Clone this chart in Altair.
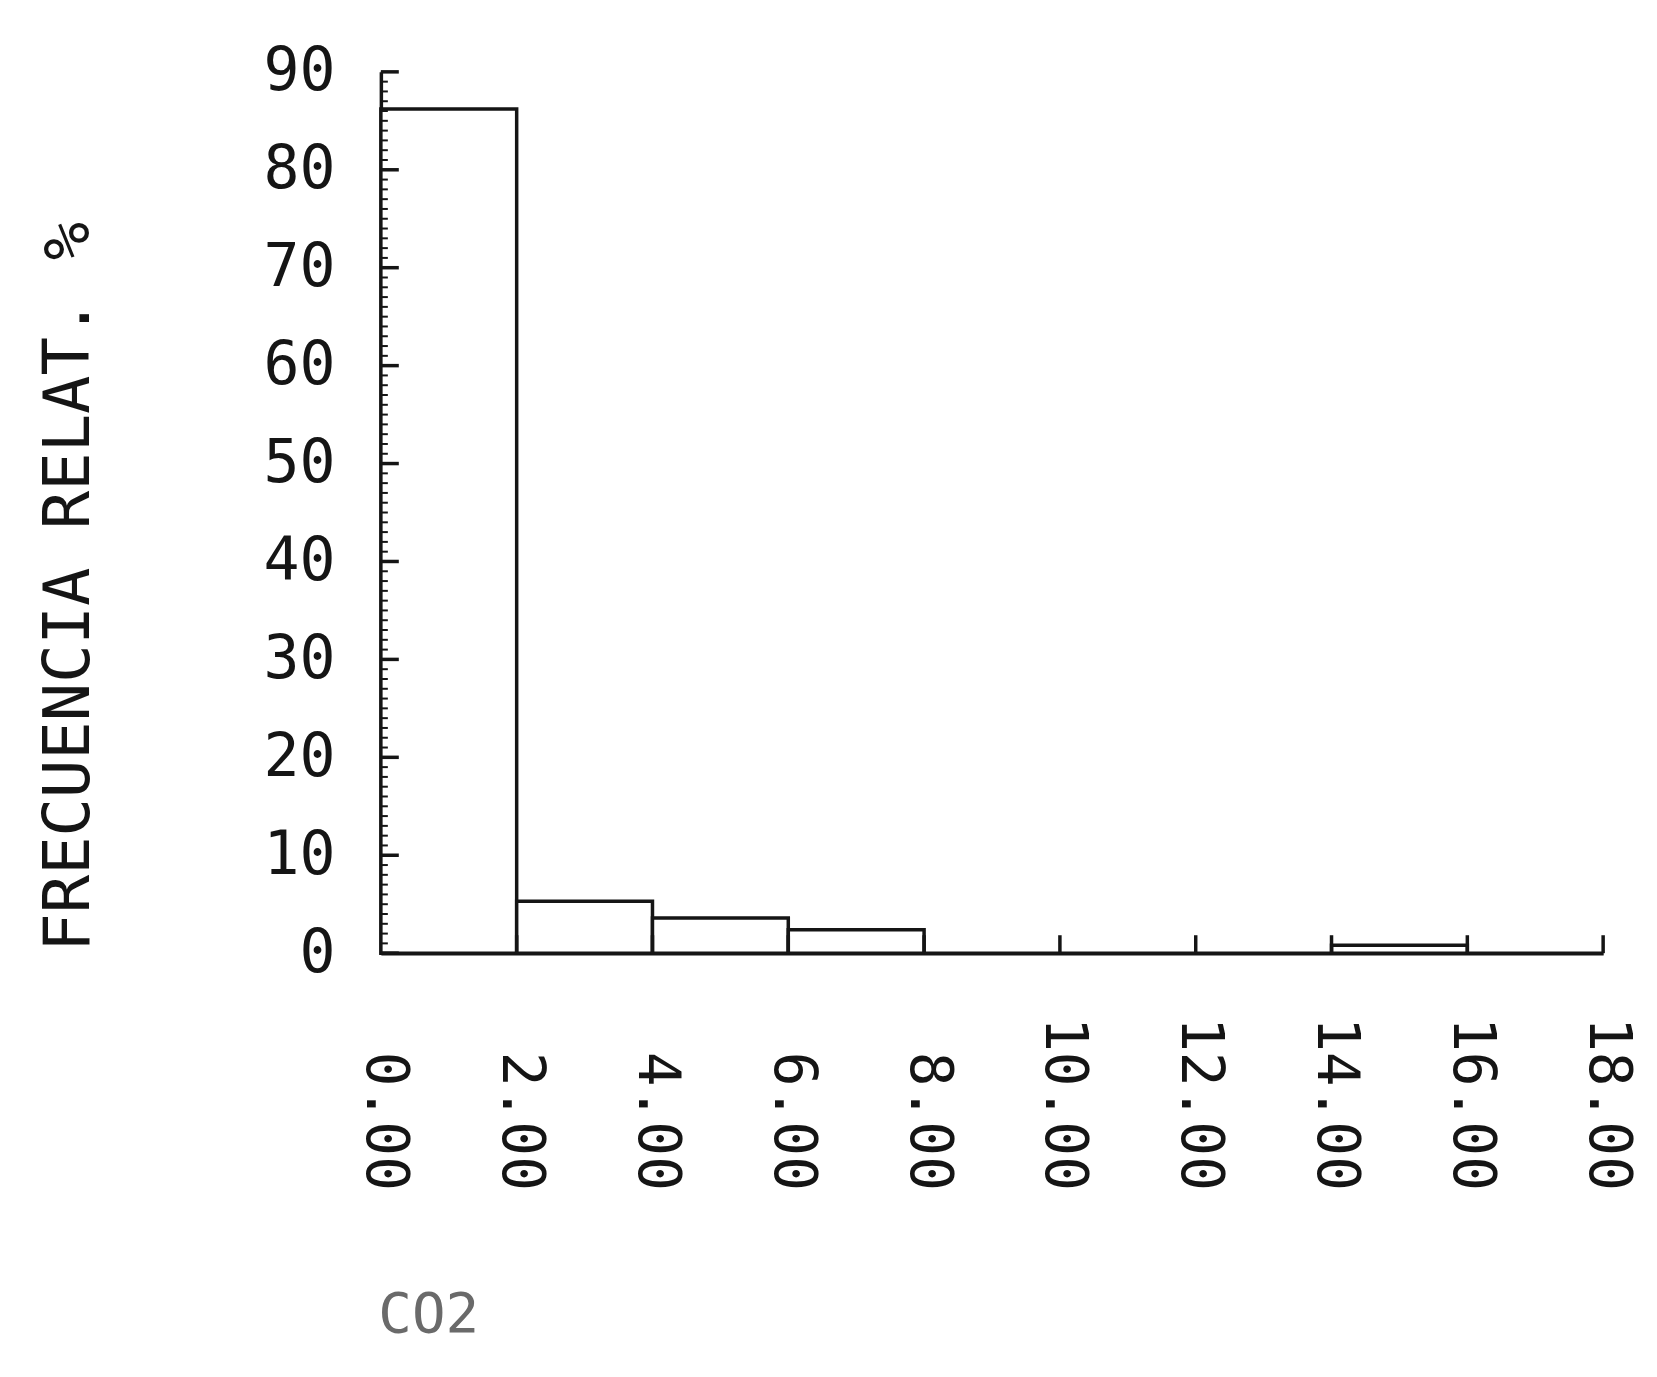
import altair as alt
import pandas as pd

# Histogram data (CO2 classes, relative frequency %)
bin_start = [0, 2, 4, 6, 8, 10, 12, 14, 16]
bin_end = [2, 4, 6, 8, 10, 12, 14, 16, 18]
freq = [86.2, 5.3, 3.6, 2.4, 0.0, 0.0, 0.0, 0.8, 0.0]

x_tick_values = [0, 2, 4, 6, 8, 10, 12, 14, 16, 18]
y_tick_values = [0, 10, 20, 30, 40, 50, 60, 70, 80, 90]
y_minor_values = list(range(0, 91))
x_inner_ticks = [2, 4, 6, 8, 10, 12, 14, 16, 18]

df = pd.DataFrame({"b0": bin_start, "b1": bin_end, "f": freq})
W, H = 1226, 884
FONT = "DejaVu Sans Mono"
INK = "#151515"

xs = alt.Scale(domain=[0, 18], nice=False, zero=False)
ys = alt.Scale(domain=[0, 90], nice=False)

bars = alt.Chart(df).mark_rect(fill="white", stroke=INK, strokeWidth=3.5).encode(
    x=alt.X("b0:Q", scale=xs, axis=alt.Axis(
        values=x_tick_values, format=".2f", title="CO2",
        labelAngle=90, labelAlign="right", labelBaseline="middle",
        labelPadding=238, ticks=False, tickSize=0, labelOffset=3,
        labelFont=FONT, labelFontSize=58, labelColor=INK,
        domainColor=INK, domainWidth=3.5, grid=False,
        titleFont=FONT, titleFontSize=56, titleFontWeight="normal", titleColor="#6a6a6a",
        titleAnchor="start", titleAlign="left", titleBaseline="middle",
        titleX=-3, titleY=362, labelFlush=False, labelOverlap=False)),
    x2="b1:Q",
    y=alt.Y("f:Q", scale=ys, axis=alt.Axis(
        values=y_tick_values, format="d", title="FRECUENCIA RELAT. %",
        ticks=False, tickSize=0, labelPadding=46,
        labelFont=FONT, labelFontSize=60, labelColor=INK,
        domainColor=INK, domainWidth=3.5, grid=False,
        titleFont=FONT, titleFontSize=64, titleFontWeight="normal", titleColor=INK,
        titleAngle=-90, titleAlign="center", titleBaseline="middle",
        titleX=-312, titleY=516, labelOverlap=False)),
    y2=alt.datum(0),
)

ymaj = alt.Chart(pd.DataFrame({"v": y_tick_values})).mark_rule(color=INK, strokeWidth=3.5).encode(
    y=alt.Y("v:Q", scale=ys), x=alt.value(0), x2=alt.value(18))
ymin = alt.Chart(pd.DataFrame({"v": y_minor_values})).mark_rule(color=INK, strokeWidth=2).encode(
    y=alt.Y("v:Q", scale=ys), x=alt.value(0), x2=alt.value(7))
xt = alt.Chart(pd.DataFrame({"v": x_inner_ticks})).mark_rule(color=INK, strokeWidth=3.5).encode(
    x=alt.X("v:Q", scale=xs), y=alt.value(H), y2=alt.value(H - 18))

chart = alt.layer(bars, ymin, ymaj, xt).properties(
    width=W, height=H,
    autosize=alt.AutoSizeParams(type="none"),
    padding={"left": 374, "top": 62, "right": 46, "bottom": 400},
).configure(background="white", view=alt.ViewConfig(stroke=None))

chart.save("out.html", embed_options={"renderer": "svg", "actions": False})
